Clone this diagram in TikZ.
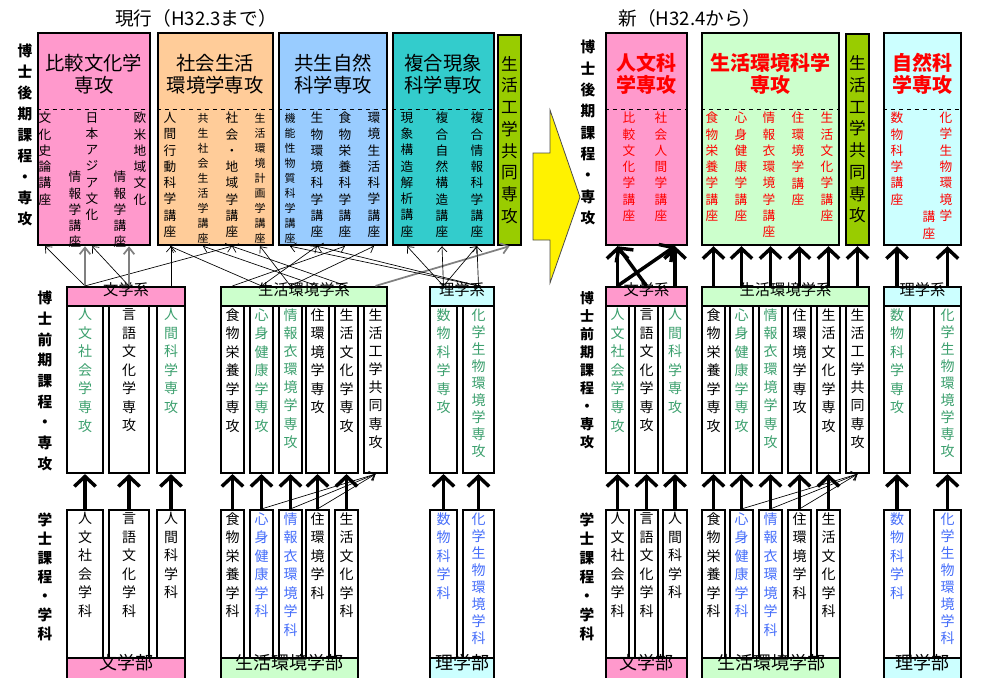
\documentclass[tikz,border=0pt]{standalone}
\usepackage{fontspec}
\setmainfont{Noto Sans CJK JP}
\usetikzlibrary{arrows.meta,positioning,fit}
\definecolor{cBun}{RGB}{255,153,204}
\definecolor{cShakai}{RGB}{255,204,153}
\definecolor{cKyosei}{RGB}{153,204,255}
\definecolor{cFukugo}{RGB}{51,204,204}
\definecolor{cKogaku}{RGB}{153,204,0}
\definecolor{cSeikatsu}{RGB}{204,255,204}
\definecolor{cRi}{RGB}{204,255,255}
\definecolor{tGreen}{RGB}{60,160,110}
\definecolor{tBlue}{RGB}{70,110,250}
\definecolor{tRed}{RGB}{255,0,0}

% one character per line
\newcommand\tate[1]{\vbox{\expandafter\tateA#1\relax}}
\def\tateA#1{\ifx\relax#1\else\hbox to 1em{\hss#1\hss}\expandafter\tateA\fi}

\tikzset{
  dbox/.style={draw, line width=1.8pt, inner sep=0pt},
  colbox/.style={draw, line width=1.6pt, fill=white, inner sep=0pt},
  syshead/.style={draw, line width=1.6pt, inner sep=0pt, font=\fontsize{11.5}{13}\selectfont},
  barhead/.style={draw, line width=1.6pt, inner sep=0pt, font=\fontsize{13.5}{15}\selectfont},
  coltext/.style={anchor=north, inner sep=0pt, yshift=-2.5pt},
  lect/.style={anchor=north, inner sep=0pt, font=\fontsize{9.5}{12.2}\selectfont},
  lectsm/.style={anchor=north, inner sep=0pt, font=\fontsize{8.2}{11.25}\selectfont},
  dtitle/.style={align=center, inner sep=0pt, font=\fontsize{14.5}{16.5}\selectfont},
  ntitle/.style={align=center, inner sep=0pt, text=tRed, font=\bfseries\fontsize{15}{16.5}\selectfont},
  sidelab/.style={anchor=north, inner sep=0pt},
  fat/.style={line width=2.6pt, -{Straight Barb[length=7.5pt,width=16pt]}},
  fine/.style={line width=0.5pt, -{Straight Barb[length=4pt,width=7pt]}},
  finegray/.style={line width=1.3pt, gray, -{Straight Barb[length=5pt,width=8pt]}},
}

\begin{document}
\begin{tikzpicture}[x=0.75pt, y=-0.75pt]
\useasboundingbox (0,0) rectangle (982,678);

% titles
\node[font=\fontsize{14}{16}\selectfont] (oldtitle) at (196,18) {現行（H32.3まで）};
\node[font=\fontsize{14}{16}\selectfont] (newtitle) at (690,18) {新（H32.4から）};

% level labels
\node[sidelab, font=\bfseries\fontsize{11}{15.75}\selectfont] (sL1) at (25,44) {\tate{博士後期課程・専攻}};
\node[sidelab, font=\bfseries\fontsize{11}{15.5}\selectfont] (sL2) at (45,291) {\tate{博士前期課程・専攻}};
\node[sidelab, font=\bfseries\fontsize{11}{14.2}\selectfont] (sL3) at (45,513) {\tate{学士課程・学科}};
\node[sidelab, font=\bfseries\fontsize{11}{16}\selectfont] (sR1) at (588,40) {\tate{博士後期課程・専攻}};
\node[sidelab, font=\bfseries\fontsize{10.5}{13.5}\selectfont] (sR2) at (587,291) {\tate{博士前期課程・専攻}};
\node[sidelab, font=\bfseries\fontsize{11}{14.2}\selectfont] (sR3) at (587,513) {\tate{学士課程・学科}};

% doctoral boxes
\foreach \nm/\xa/\xb/\clr in {dL1/38/150/cBun, dL2/158/273/cShakai, dL3/279/387/cKyosei,
    dL4/393/494/cFukugo, dR1/606/687/cBun, dR2/702/839/cSeikatsu, dR4/884/961/cRi}{
  \node[dbox, fill=\clr, fit={(\xa,33) (\xb,245)}] (\nm) {};
  \draw[dashed, line width=0.6pt] (\nm.west |- 0,109) -- (\nm.east |- 0,109);
}
\node[dbox, fill=cKogaku, fit={(498,35) (521,245)}] (dL5) {};
\node[inner sep=0pt, font=\fontsize{12.5}{16.3}\selectfont] (dL5-t) at (dL5) {\tate{生活工学共同専攻}};
\node[dbox, fill=cKogaku, fit={(846,34) (869,245)}] (dR3) {};
\node[inner sep=0pt, font=\fontsize{12.5}{16.3}\selectfont] (dR3-t) at (dR3) {\tate{生活工学共同専攻}};

\node[dtitle] (dL1-t) at (94,74) {比較文化学\\専攻};
\node[dtitle] (dL2-t) at (215,74) {社会生活\\環境学専攻};
\node[dtitle] (dL3-t) at (333,74) {共生自然\\科学専攻};
\node[dtitle] (dL4-t) at (443,74) {複合現象\\科学専攻};
\node[ntitle] (dR1-t) at (646,74) {人文科\\学専攻};
\node[ntitle] (dR2-t) at (770,74) {生活環境科学\\専攻};
\node[ntitle] (dR4-t) at (922,74) {自然科\\学専攻};

% lectures
\foreach \nm/\x/\y/\txt in {dL1a/45/112/文化史論講座, dL1b/92/112/日本アジア文化, dL1c/75/171/情報学講座,
    dL1d/140/112/欧米地域文化, dL1e/120/171/情報学講座, dL2a/170/112/人間行動科学講座,
    dL2c/232/112/社会・地域学講座, dL3b/317/112/生物環境科学講座, dL3c/345/112/食物栄養科学講座,
    dL3d/374/112/環境生活科学講座, dL4a/407/112/現象構造解析講座, dL4b/442/112/複合自然構造講座,
    dL4c/477/112/複合情報科学講座}
  \node[lect] (\nm) at (\x,\y) {\tate{\txt}};
\foreach \nm/\x/\txt in {dL2b/203/共生社会生活学講座, dL2d/260/生活環境計画学講座, dL3a/290/機能性物質科学講座}
  \node[lectsm] (\nm) at (\x,113) {\tate{\txt}};
\foreach \nm/\x/\y/\txt in {dR1a/629/112/比較文化学講座, dR1b/661/112/社会人間学講座, dR2a/712/112/食物栄養学講座,
    dR2b/741/112/心身健康学講座, dR2c/769/112/情報衣環境学講座, dR2d/798/112/住環境学講座,
    dR2e/827/112/生活文化学講座, dR4a/897/112/数物科学講座, dR4b/946/112/化学生物環境学, dR4c/929/211/講座}
  \node[lect, text=tRed] (\nm) at (\x,\y) {\tate{\txt}};

% master courses
\foreach \nm/\xa/\xb/\clr/\bs/\txt in {mL1/67/103/tGreen/13.9/人文社会学専攻, mL2/109/149/black/13.9/言語文化学専攻,
    mL3/157/185/tGreen/13.9/人間科学専攻, mL4/221/244/black/13.9/食物栄養学専攻, mL5/250/273/tGreen/13.9/心身健康学専攻,
    mL6/279/302/tGreen/13.6/情報衣環境学専攻, mL7/306/329/black/13.9/住環境学専攻, mL8/335/358/black/13.9/生活文化学専攻,
    mL9/364/387/black/13.6/生活工学共同専攻, mL10/430/457/tGreen/13.9/数物科学専攻, mL11/463/494/tGreen/12.75/化学生物環境学専攻,
    mR1/606/629/tGreen/13.9/人文社会学専攻, mR2/635/658/black/13.9/言語文化学専攻, mR3/663/687/tGreen/13.9/人間科学専攻,
    mR4/702/725/black/13.9/食物栄養学専攻, mR5/730/753/tGreen/13.9/心身健康学専攻, mR6/759/782/tGreen/13.6/情報衣環境学専攻,
    mR7/788/811/black/13.9/住環境学専攻, mR8/817/840/black/13.9/生活文化学専攻, mR9/846/869/black/13.6/生活工学共同専攻,
    mR10/884/910/tGreen/13.9/数物科学専攻, mR11/934/961/tGreen/12.75/化学生物環境学専攻}{
  \node[colbox, fit={(\xa,306) (\xb,473)}] (\nm) {};
  \node[coltext, text=\clr, font=\fontsize{10.5}{\bs}\selectfont] (\nm-t) at (\nm.north) {\tate{\txt}};
}
\foreach \nm/\xa/\xb/\clr/\txt in {hL1/67/185/cBun/文学系, hL2/221/387/cSeikatsu/生活環境学系,
    hL3/430/494/cRi/理学系, hR1/606/687/cBun/文学系, hR2/702/869/cSeikatsu/生活環境学系, hR3/884/961/cRi/理学系}
  \node[syshead, fill=\clr, fit={(\xa,287) (\xb,306)}] (\nm) {\txt};

% bachelor courses
\foreach \nm/\xa/\xb/\clr/\bs/\txt in {bL1/67/103/black/13.9/人文社会学科, bL2/109/149/black/13.9/言語文化学科,
    bL3/157/185/black/13.9/人間科学科, bL4/221/244/black/13.9/食物栄養学科, bL5/250/273/tBlue/13.9/心身健康学科,
    bL6/279/302/tBlue/13.9/情報衣環境学科, bL7/306/329/black/13.9/住環境学科, bL8/335/358/black/13.9/生活文化学科,
    bL10/430/457/tBlue/13.9/数物科学科, bL11/463/494/tBlue/12.8/化学生物環境学科,
    bR1/606/629/black/13.9/人文社会学科, bR2/635/658/black/13.9/言語文化学科, bR3/663/687/black/13.9/人間科学科,
    bR4/702/725/black/13.9/食物栄養学科, bR5/730/753/tBlue/13.9/心身健康学科, bR6/759/782/tBlue/13.9/情報衣環境学科,
    bR7/788/811/black/13.9/住環境学科, bR8/817/840/black/13.9/生活文化学科,
    bR10/884/910/tBlue/13.9/数物科学科, bR11/934/961/tBlue/12.8/化学生物環境学科}{
  \node[colbox, fit={(\xa,510) (\xb,658)}] (\nm) {};
  \node[coltext, text=\clr, font=\fontsize{10.5}{\bs}\selectfont] (\nm-t) at (\nm.north) {\tate{\txt}};
}
\foreach \nm/\xa/\xb/\clr/\txt in {fL1/67/185/cBun/文学部, fL2/221/358/cSeikatsu/生活環境学部,
    fL3/430/494/cRi/理学部, fR1/606/687/cBun/文学部, fR2/702/840/cSeikatsu/生活環境学部, fR3/884/961/cRi/理学部}
  \node[barhead, fill=\clr, fit={(\xa,658) (\xb,682)}] (\nm) {\txt};

% bachelor -> master
\foreach \i in {1,...,8,10,11}{
  \draw[fat] (bL\i.north) -- (mL\i.south);
  \draw[fat] (bR\i.north) -- (mR\i.south);
}
\foreach \i in {5,6,7}{
  \draw[fine] (bL\i.north) -- (mL9.south);
  \draw[fine] (bR\i.north) -- (mR9.south);
}

% master -> doctor, new
\draw[fat] (hR1.north -| mR1) -- (dR1.south -| mR1);
\draw[fat] (hR1.north -| mR1) -- (dR1.south -| mR3);
\draw[fat] (hR1.north -| mR2) -- (dR1.south -| mR1);
\draw[fat] (hR1.north -| mR3) -- (dR1.south -| mR3);
\foreach \i in {4,...,8}
  \draw[fat] (hR2.north -| mR\i) -- (dR2.south -| mR\i);
\draw[fat] (hR2.north -| mR9) -- (dR3.south);
\draw[fat] (hR3.north -| mR10) -- (dR4.south -| mR10);
\draw[fat] (hR3.north -| mR11) -- (dR4.south -| mR11);

% master -> doctor, current
\draw[fine] (hL1.north -| mL1) -- (dL1.south -| dL1a);
\draw[finegray] (hL1.north -| mL1) -- (dL1.south -| mL1);
\draw[fine] (hL1.north -| mL1) -- (dL2.south -| dL2c);
\draw[finegray] (hL1.north -| mL2) -- (dL1.south -| mL2);
\draw[fine] (hL1.north -| mL2) -- (dL1.south -| dL1b);
\draw[fine] (hL1.north -| mL3) -- (dL2.south -| mL3);
\draw[fine] (hL2.north -| mL4) -- (dL3.south -| dL3c);
\draw[fine] (hL2.north -| mL5) -- (dL2.south -| dL2a);
\draw[fine] (hL2.north -| mL5) -- (dL3.south -| dL3b);
\draw[fine] (hL2.north -| mL6) -- (dL2.south -| dL2d);
\draw[fine] (hL2.north -| mL6) -- (dL3.south -| dL3d);
\draw[fine] (hL2.north -| mL7) -- (dL2.south -| dL2b);
\draw[fine] (hL2.north -| mL8) -- (dL2.south -| dL2c);
\draw[finegray] (hL2.north -| mL9) -- (dL5.south);
\draw[fine] (hL3.north -| mL10) -- (dL4.south -| dL4a);
\draw[fine] (hL3.north -| mL10) -- (dL4.south -| dL4b);
\draw[fine] (hL3.north -| mL10) -- (dL4.south -| dL4c);
\draw[fine] (hL3.north -| mL11) -- (dL4.south -| dL4c);
\draw[fine] (hL3.north -| mL11) -- (dL3.south -| dL3a);
\draw[fine] (hL3.north -| mL11) -- (dL3.south -| dL3b);

% change arrow
\draw[fill=yellow, draw=black!70, line width=0.6pt] (533,153) -- (550,153) -- (550,110) -- (580,197)
  -- (550,283) -- (550,240) -- (533,240) -- cycle;
\end{tikzpicture}
\end{document}
